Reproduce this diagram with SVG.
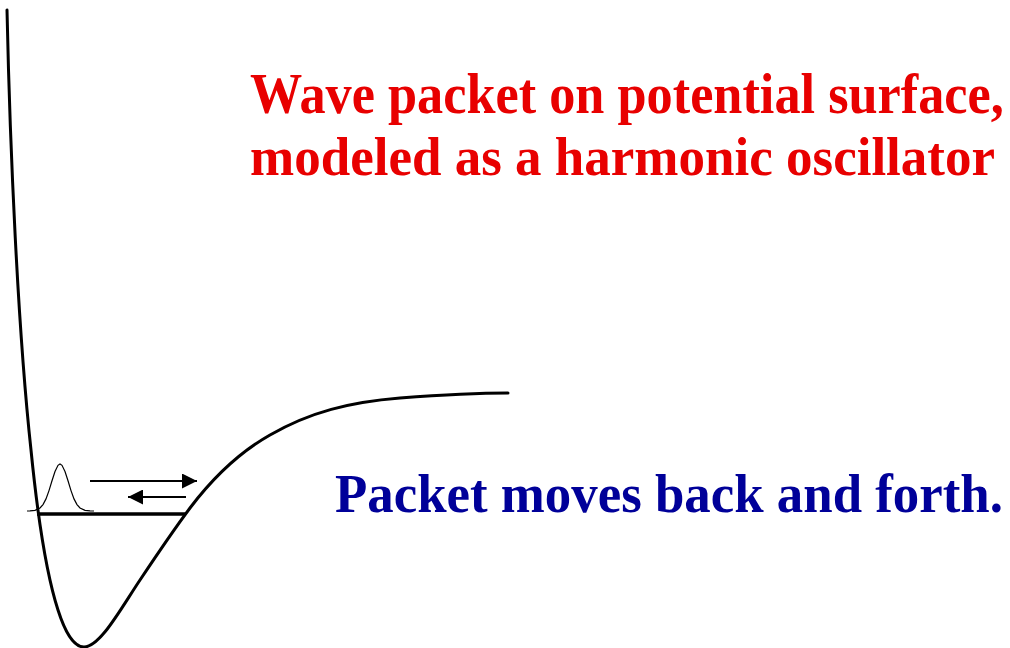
<svg xmlns="http://www.w3.org/2000/svg" width="1010" height="648" viewBox="0 0 1010 648">
<style>
.curve{fill:none;stroke:#000;stroke-width:3;stroke-linecap:round;stroke-linejoin:round}
.level{fill:none;stroke:#000;stroke-width:3.5}
.packet{fill:none;stroke:#000;stroke-width:1.2}
.arrow{fill:none;stroke:#000;stroke-width:2}
.title{font-family:"Liberation Serif","Times New Roman",serif;font-weight:bold;font-size:56px;fill:#e80000}
.note{font-family:"Liberation Serif","Times New Roman",serif;font-weight:bold;font-size:54px;fill:#000099}
</style>
<defs>
<marker id="head" viewBox="0 0 10 10" refX="10" refY="5" markerWidth="8" markerHeight="7.5" markerUnits="strokeWidth" orient="auto">
<path d="M0,0 L10,5 L0,10 Z" fill="#000"/>
</marker>
</defs>
<rect width="1010" height="648" fill="#fff"/>
<g id="potential">
<path class="curve" d="M7,10 C10,150 18,330 31,450 C36,500 45,570 58,610 C66,635 75,647 84,647 C100,647 120,610 140,580 C160,550 175,528 190,508 C215,475 240,452 270,435 C310,412 350,402 400,398 C440,395 480,393 508,393"/>
</g>
<g id="energy-level">
<line class="level" x1="37" y1="514" x2="186" y2="514"/>
</g>
<g id="wave-packet">
<polyline class="packet" points="27,511 30,510.9 35,510.4 40,508 43,504.6 46,498.9 49,490.6 52,480.8 55,471.5 58,465.3 60,464 62,465.3 65,471.5 68,480.8 71,490.6 74,498.9 77,504.6 80,508 85,510.4 90,510.9 94,511"/>
</g>
<g id="connectors">
<line class="arrow" x1="90" y1="481" x2="197" y2="481" marker-end="url(#head)"/>
<line class="arrow" x1="186" y1="497" x2="128" y2="497" marker-end="url(#head)"/>
</g>
<g id="title">
<text class="title" transform="translate(250,113) scale(0.934,1)" x="0" y="0">Wave packet on potential surface,</text>
<text class="title" transform="translate(250,175) scale(0.947,1)" x="0" y="0">modeled as a harmonic oscillator</text>
</g>
<g id="caption">
<text class="note" transform="translate(335,512) scale(0.979,1)" x="0" y="0">Packet moves back and forth.</text>
</g>
</svg>
